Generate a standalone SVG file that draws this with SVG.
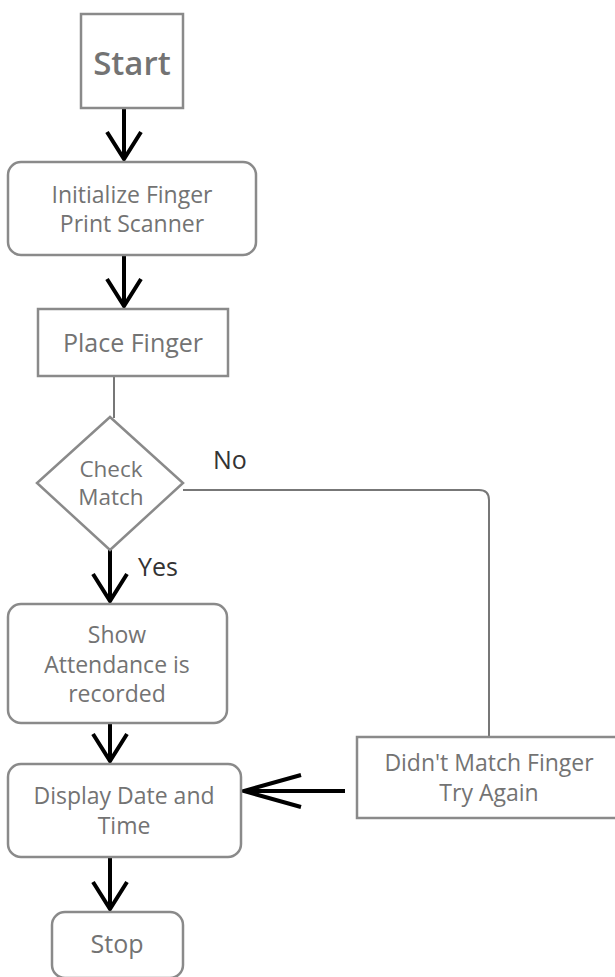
<svg xmlns="http://www.w3.org/2000/svg" width="615" height="977" viewBox="0 0 615 977">
<style>
.box{fill:#fff;stroke:#8a8a8a;stroke-width:2.5}
.t{font-family:"Open Sans","Noto Sans",sans-serif;fill:#737373;text-anchor:middle;font-size:23px}
.lbl{font-family:"Open Sans","Noto Sans",sans-serif;fill:#333;font-size:25px}
.arr{stroke:#000;stroke-width:4;fill:none}
.thin{stroke:#777;stroke-width:2;fill:none}
</style>
<defs>
<marker id="v" markerUnits="userSpaceOnUse" orient="auto" markerWidth="40" markerHeight="40" refX="0" refY="0" overflow="visible">
<path d="M -27 -17 L 0 0 L -27 17" stroke="#000" stroke-width="4" fill="none"/>
</marker>
<marker id="vl" markerUnits="userSpaceOnUse" orient="auto" markerWidth="70" markerHeight="40" refX="0" refY="0" overflow="visible">
<path d="M -57 -16 L 0 0 L -57 16" stroke="#000" stroke-width="4" fill="none"/>
</marker>
</defs>
<g id="connectors">
<line class="arr" x1="124" y1="108" x2="124" y2="159" marker-end="url(#v)"/>
<line class="arr" x1="124" y1="255" x2="124" y2="306" marker-end="url(#v)"/>
<line class="thin" x1="114" y1="376" x2="114" y2="418"/>
<path class="thin" d="M 183 490 L 479 490 Q 489 490 489 500 L 489 737" stroke="#666"/>
<line class="arr" x1="110" y1="550" x2="110" y2="601" marker-end="url(#v)"/>
<line class="arr" x1="110" y1="723" x2="110" y2="761" marker-end="url(#v)"/>
<line class="arr" x1="110" y1="857" x2="110" y2="909" marker-end="url(#v)"/>
<line class="arr" x1="345" y1="791" x2="244" y2="791" marker-end="url(#vl)"/>
<text class="lbl" x="213" y="469">No</text>
<text class="lbl" x="138" y="576">Yes</text>
</g>
<g id="start">
<rect class="box" x="81" y="14" width="102" height="94"/>
<text class="t" x="132" y="75" style="font-size:33px" font-weight="600">Start</text>
</g>
<g id="init">
<rect class="box" x="8" y="162" width="248" height="93" rx="13"/>
<text class="t" x="132" y="203">Initialize Finger</text>
<text class="t" x="132" y="232">Print Scanner</text>
</g>
<g id="place">
<rect class="box" x="38" y="309" width="190" height="67"/>
<text class="t" x="133" y="352" style="font-size:25px">Place Finger</text>
</g>
<g id="check">
<polygon class="box" points="110,417 183,483 110,550 37,483"/>
<text class="t" x="111" y="477" style="font-size:22.5px">Check</text>
<text class="t" x="111" y="505" style="font-size:22.5px">Match</text>
</g>
<g id="show">
<rect class="box" x="8" y="604" width="219" height="119" rx="13"/>
<text class="t" x="117" y="643">Show</text>
<text class="t" x="117" y="673">Attendance is</text>
<text class="t" x="117" y="702">recorded</text>
</g>
<g id="display">
<rect class="box" x="8" y="764" width="233" height="93" rx="13"/>
<text class="t" x="124" y="804">Display Date and</text>
<text class="t" x="124" y="834">Time</text>
</g>
<g id="stop">
<rect class="box" x="52" y="912" width="131" height="66" rx="13"/>
<text class="t" x="117" y="953" style="font-size:25px">Stop</text>
</g>
<g id="nomatch">
<rect class="box" x="357" y="737" width="270" height="81"/>
<text class="t" x="489" y="771">Didn't Match Finger</text>
<text class="t" x="489" y="801">Try Again</text>
</g>
</svg>
